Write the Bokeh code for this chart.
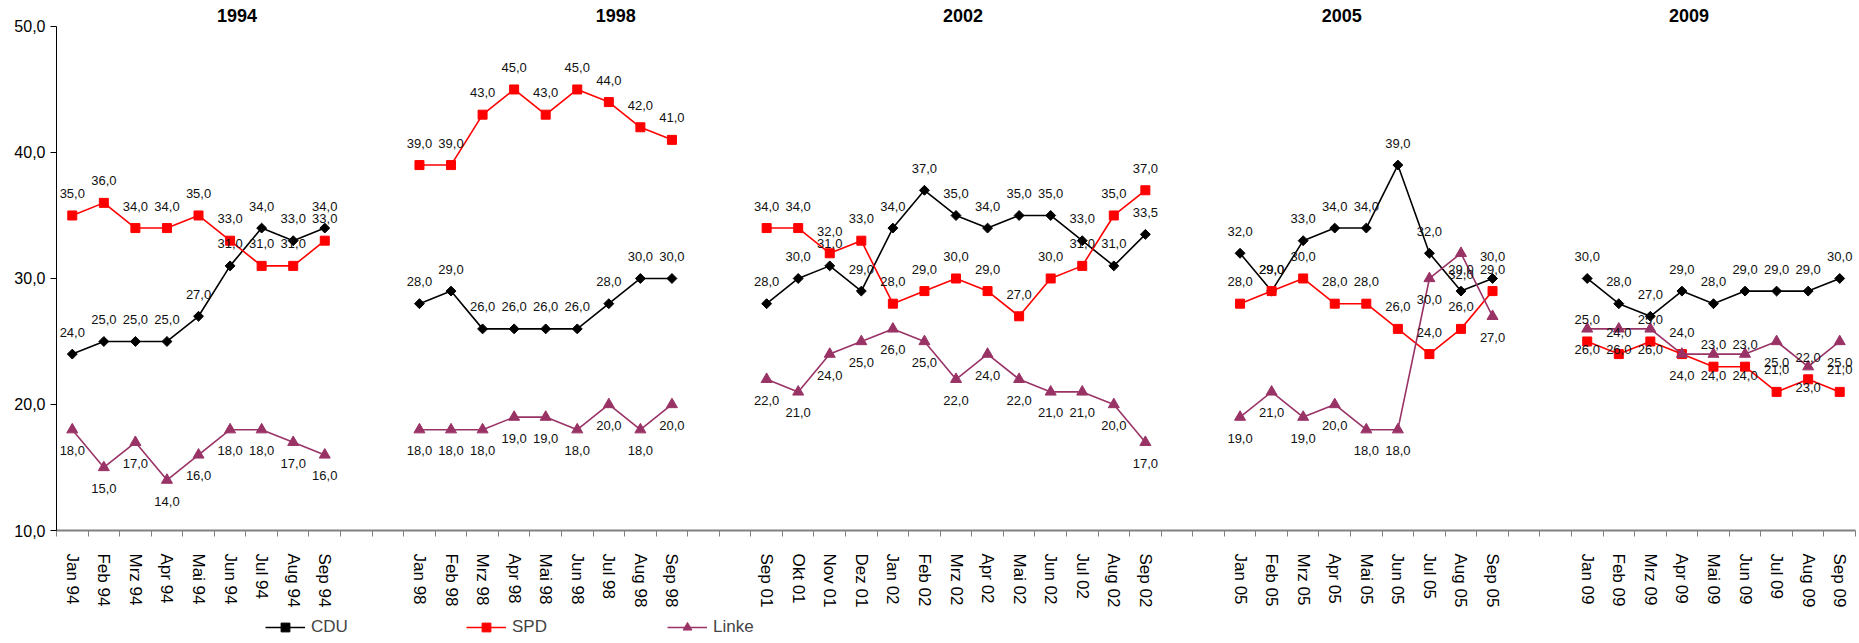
import math
from bokeh.plotting import figure
from bokeh.layouts import column, row
from bokeh.models import (ColumnDataSource, Range1d, LinearAxis, FixedTicker, Legend, LegendItem, Spacer)
from bokeh.core.properties import value
from bokeh.embed import file_html
from bokeh.resources import INLINE

# ---------------- data ----------------
months_1994 = ["Jan 94", "Feb 94", "Mrz 94", "Apr 94", "Mai 94", "Jun 94", "Jul 94", "Aug 94", "Sep 94"]
months_1998 = ["Jan 98", "Feb 98", "Mrz 98", "Apr 98", "Mai 98", "Jun 98", "Jul 98", "Aug 98", "Sep 98"]
months_2002 = ["Sep 01", "Okt 01", "Nov 01", "Dez 01", "Jan 02", "Feb 02", "Mrz 02", "Apr 02",
               "Mai 02", "Jun 02", "Jul 02", "Aug 02", "Sep 02"]
months_2005 = ["Jan 05", "Feb 05", "Mrz 05", "Apr 05", "Mai 05", "Jun 05", "Jul 05", "Aug 05", "Sep 05"]
months_2009 = ["Jan 09", "Feb 09", "Mrz 09", "Apr 09", "Mai 09", "Jun 09", "Jul 09", "Aug 09", "Sep 09"]

cdu_1994 = [24, 25, 25, 25, 27, 31, 34, 33, 34]
spd_1994 = [35, 36, 34, 34, 35, 33, 31, 31, 33]
linke_1994 = [18, 15, 17, 14, 16, 18, 18, 17, 16]

cdu_1998 = [28, 29, 26, 26, 26, 26, 28, 30, 30]
spd_1998 = [39, 39, 43, 45, 43, 45, 44, 42, 41]
linke_1998 = [18, 18, 18, 19, 19, 18, 20, 18, 20]

cdu_2002 = [28, 30, 31, 29, 34, 37, 35, 34, 35, 35, 33, 31, 33.5]
spd_2002 = [34, 34, 32, 33, 28, 29, 30, 29, 27, 30, 31, 35, 37]
linke_2002 = [22, 21, 24, 25, 26, 25, 22, 24, 22, 21, 21, 20, 17]

cdu_2005 = [32, 29, 33, 34, 34, 39, 32, 29, 30]
spd_2005 = [28, 29, 30, 28, 28, 26, 24, 26, 29]
linke_2005 = [19, 21, 19, 20, 18, 18, 30, 32, 27]

cdu_2009 = [30, 28, 27, 29, 28, 29, 29, 29, 30]
spd_2009 = [25, 24, 25, 24, 23, 23, 21, 22, 21]
linke_2009 = [26, 26, 26, 24, 24, 24, 25, 23, 25]

panel_titles = ["1994", "1998", "2002", "2005", "2009"]
title_anchor = ["Jun 94", "Jul 98", "Mrz 02", "Apr 05", "Apr 09"]
y_ticks = [10, 20, 30, 40, 50]
series_names = ["CDU", "SPD", "Linke"]

# ---------------- category slots: 2 empty slots between panels ----------------
panels_m = [months_1994, months_1998, months_2002, months_2005, months_2009]
panels_c = [cdu_1994, cdu_1998, cdu_2002, cdu_2005, cdu_2009]
panels_s = [spd_1994, spd_1998, spd_2002, spd_2005, spd_2009]
panels_l = [linke_1994, linke_1998, linke_2002, linke_2005, linke_2009]
GAP = 2

labels, cdu, spd, linke = [], [], [], []
nan = float("nan")
for i, (m, c, s, l) in enumerate(zip(panels_m, panels_c, panels_s, panels_l)):
    labels += m
    cdu += c
    spd += s
    linke += l
    if i < len(panels_m) - 1:
        labels += [None] * GAP
        cdu += [nan] * GAP
        spd += [nan] * GAP
        linke += [nan] * GAP

n_slots = len(labels)
xs = [k + 0.5 for k in range(n_slots)]          # slot centres on the category scale
slot_of = {lab: xs[k] for k, lab in enumerate(labels) if lab}

def fmt(v):
    return "" if v != v else f"{v:.1f}".replace(".", ",")

src = ColumnDataSource(dict(
    x=xs, cdu=cdu, spd=spd, linke=linke,
    cdu_t=[fmt(v) for v in cdu], spd_t=[fmt(v) for v in spd], linke_t=[fmt(v) for v in linke],
))

FONT = "Liberation Sans"
BLACK, RED, PLUM = "black", "#FF0000", "#993366"

p = figure(width=1859, height=616, x_range=Range1d(0, n_slots),
           y_range=Range1d(10, 52.06), output_backend="svg", toolbar_location=None,
           x_axis_location=None, y_axis_location=None)
p.min_border_left = 56
p.min_border_right = 4
p.min_border_top = 0
p.min_border_bottom = 86
p.outline_line_color = None
p.xgrid.visible = False
p.ygrid.visible = False

# y axis
yax = LinearAxis(ticker=FixedTicker(ticks=y_ticks), bounds=(10, 50))
yax.major_label_overrides = {t: f"{t:.1f}".replace(".", ",") for t in y_ticks}
yax.major_label_text_font = FONT
yax.major_label_text_font_size = "16px"
yax.major_label_text_color = "black"
yax.major_tick_out = 6
yax.major_tick_in = 0
yax.minor_tick_line_color = None
yax.axis_line_color = "black"
yax.major_tick_line_color = "black"
yax.major_label_standoff = 5
p.add_layout(yax, "left")

# x axis: labels at slot centres, tick marks at slot boundaries
label_ticks = [xs[k] for k, lab in enumerate(labels) if lab]
xax = LinearAxis(ticker=FixedTicker(ticks=label_ticks, minor_ticks=list(range(n_slots + 1))))
xax.major_label_overrides = {xs[k]: lab for k, lab in enumerate(labels) if lab}
xax.major_tick_out = 0
xax.major_tick_in = 0
xax.minor_tick_out = 6
xax.minor_tick_in = 0
xax.minor_tick_line_color = "#808080"
xax.axis_line_color = "#808080"
xax.axis_line_width = 2
xax.major_label_orientation = -math.pi / 2
xax.major_label_text_font = FONT
xax.major_label_text_font_size = "17px"
xax.major_label_text_color = "black"
xax.major_label_standoff = 17
p.add_layout(xax, "below")

# series
p.line("x", "cdu", source=src, color=BLACK, line_width=1.6)
p.scatter("x", "cdu", source=src, marker="square", angle=math.pi / 4, size=7, color=BLACK)
p.line("x", "spd", source=src, color=RED, line_width=1.6)
p.scatter("x", "spd", source=src, marker="square", size=9, color=RED)
p.line("x", "linke", source=src, color=PLUM, line_width=1.6)
p.scatter("x", "linke", source=src, marker="triangle", size=11, color=PLUM)

# data labels
lab_kw = dict(source=src, text_font=value(FONT), text_font_size="13px", text_color="#111111",
              text_align="center", text_baseline="middle")
p.text("x", "cdu", text="cdu_t", y_offset=-22, **lab_kw)
p.text("x", "spd", text="spd_t", y_offset=-22, **lab_kw)
p.text("x", "linke", text="linke_t", y_offset=21, **lab_kw)

# panel titles
tsrc = ColumnDataSource(dict(x=[slot_of[a] for a in title_anchor], y=[50.87] * len(title_anchor),
                             t=panel_titles))
p.text("x", "y", text="t", source=tsrc, text_font=value(FONT), text_font_size="18px",
       text_font_style="bold", text_color="black", text_align="center", text_baseline="middle",
       x_offset=7)

# ---------------- legend strip below the chart ----------------
lg = figure(width=700, height=27, x_range=Range1d(0, 1), y_range=Range1d(0, 1),
            output_backend="svg", toolbar_location=None, x_axis_location=None, y_axis_location=None)
lg.min_border = 0
lg.outline_line_color = None
lg.xgrid.visible = False
lg.ygrid.visible = False
styles = [dict(color=BLACK, marker="square", angle=math.pi / 4, size=7),
          dict(color=RED, marker="square", angle=0, size=9),
          dict(color=PLUM, marker="triangle", angle=0, size=11)]
items = []
for name, st in zip(series_names, styles):
    # legend-only renderers: a single NaN point, so nothing is drawn in the strip itself
    r_l = lg.line(x=[nan], y=[nan], color=st["color"], line_width=1.6)
    r_m = lg.scatter(x=[nan], y=[nan], marker=st["marker"], angle=st["angle"], size=st["size"],
                     color=st["color"])
    items.append(LegendItem(label=name, renderers=[r_l, r_m]))
legend = Legend(items=items, orientation="horizontal", location="top_left")
legend.glyph_width = 40
legend.glyph_height = 22
legend.label_width = 150
legend.spacing = 5
legend.padding = 2
legend.margin = 0
legend.label_standoff = 6
legend.label_text_font = FONT
legend.label_text_font_size = "17px"
legend.border_line_color = None
legend.background_fill_alpha = 0
lg.add_layout(legend)

layout = column(p, row(Spacer(width=265, height=27), lg), spacing=0)

open("out.html", "w").write(file_html(layout, INLINE))
